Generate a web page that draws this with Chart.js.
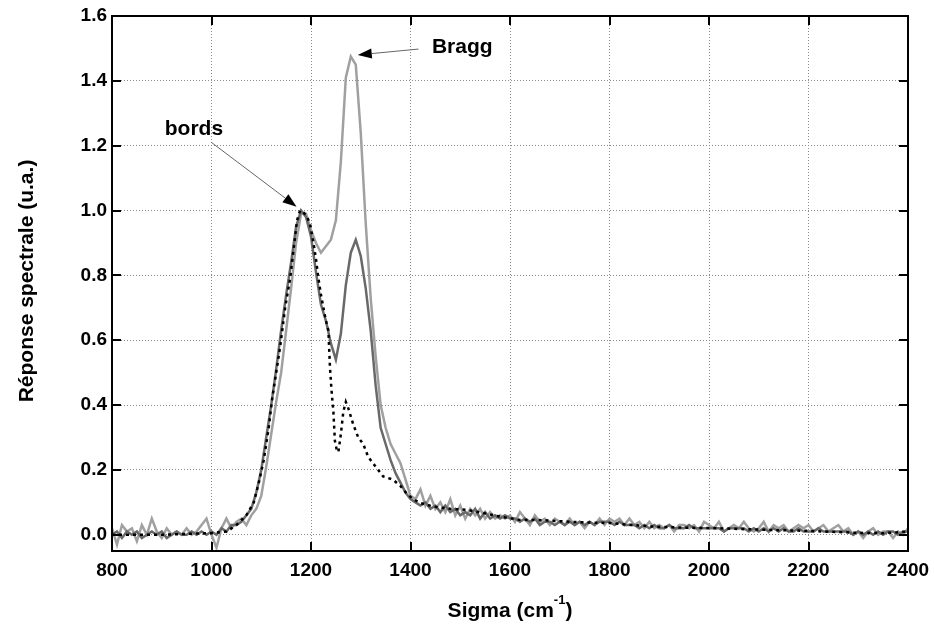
<!DOCTYPE html>
<html>
<head>
<meta charset="utf-8">
<script src="https://cdn.jsdelivr.net/npm/chart.js@4"></script>
<style>
  html, body { margin: 0; padding: 0; background: #fff; }
  #wrap { width: 934px; height: 628px; }
</style>
</head>
<body>
<div id="wrap"><canvas id="myChart" width="934" height="628"></canvas></div>
<script>
// wavenumber grid for the two measured spectra (800..2400, step 10)
var sigma = [];
for (var s = 800; s <= 2400; s += 10) sigma.push(s);

// light grey spectrum (Bragg peak)
var lightGrey = [
  0.02,-0.03,0.03,0.01,0.02,-0.02,0.03,0.00,0.05,0.01,
  -0.01,0.02,0.00,0.01,0.00,0.02,0.00,0.01,0.03,0.05,
  0.00,-0.04,0.02,0.05,0.02,0.04,0.05,0.03,0.06,0.08,
  0.12,0.21,0.31,0.41,0.50,0.63,0.76,0.90,0.99,0.99,
  0.94,0.90,0.87,0.89,0.91,0.97,1.15,1.41,1.475,1.45,
  1.24,0.96,0.73,0.55,0.40,0.33,0.28,0.25,0.22,0.17,
  0.12,0.11,0.14,0.09,0.12,0.08,0.10,0.07,0.11,0.06,
  0.09,0.05,0.08,0.06,0.08,0.05,0.07,0.05,0.06,0.05,
  0.06,0.04,0.07,0.05,0.03,0.06,0.04,0.05,0.03,0.05,
  0.04,0.03,0.05,0.03,0.04,0.02,0.04,0.03,0.05,0.03,
  0.05,0.04,0.05,0.03,0.05,0.03,0.04,0.02,0.04,0.02,
  0.03,0.02,0.03,0.01,0.03,0.03,0.02,0.03,0.01,0.04,
  0.03,0.02,0.04,0.01,0.02,0.03,0.02,0.04,0.02,0.01,
  0.02,0.04,0.01,0.03,0.02,0.03,0.01,0.02,0.03,0.02,
  0.03,0.01,0.02,0.03,0.01,0.02,0.03,0.01,0.02,0.00,
  0.01,-0.01,0.01,0.02,0.00,0.01,0.01,-0.01,0.01,0.00,
  0.02
];

// dark grey spectrum
var darkGrey = [
  0.00,0.01,-0.01,0.01,0.00,0.01,-0.01,0.00,0.01,0.00,
  0.01,-0.01,0.00,0.01,0.00,0.00,0.01,0.00,0.01,0.00,
  0.01,0.00,0.02,0.01,0.03,0.03,0.04,0.06,0.08,0.13,
  0.20,0.30,0.40,0.51,0.63,0.74,0.84,0.95,1.00,0.98,
  0.92,0.81,0.71,0.66,0.59,0.54,0.62,0.77,0.87,0.91,
  0.86,0.76,0.63,0.46,0.33,0.28,0.23,0.19,0.16,0.13,
  0.11,0.10,0.09,0.10,0.08,0.09,0.07,0.09,0.07,0.08,
  0.06,0.07,0.06,0.08,0.05,0.07,0.05,0.06,0.05,0.06,
  0.05,0.05,0.04,0.05,0.04,0.05,0.03,0.04,0.04,0.03,
  0.04,0.03,0.04,0.03,0.04,0.03,0.04,0.03,0.04,0.04,
  0.04,0.03,0.04,0.03,0.03,0.03,0.02,0.03,0.02,0.03,
  0.02,0.02,0.03,0.02,0.02,0.02,0.03,0.02,0.02,0.02,
  0.02,0.02,0.02,0.01,0.02,0.02,0.02,0.02,0.01,0.02,
  0.01,0.02,0.01,0.02,0.01,0.02,0.01,0.01,0.02,0.01,
  0.01,0.01,0.02,0.01,0.01,0.01,0.01,0.01,0.01,0.00,
  0.01,0.00,0.01,0.00,0.01,0.00,0.01,0.01,0.00,0.01,
  0.01
];

// dotted reference curve (its own sampling)
var dotSigma = [800,900,950,1000,1030,1050,1070,1085,1095,1105,1115,1122,1130,1138,1148,1158,1165,1172,1178,1185,1192,1198,1205,1210,1215,1220,1225,1230,1235,1238,1241,1245,1248,1252,1255,1260,1265,1270,1275,1285,1295,1305,1315,1325,1335,1345,1365,1380,1392,1405,1420,1446,1480,1513,1550,1580,1620,1670,1720,1800,1880,1950,2000,2100,2200,2300,2350,2400];
var dotted = [0.0,0.0,0.003,0.005,0.01,0.03,0.06,0.10,0.16,0.23,0.33,0.42,0.50,0.58,0.70,0.79,0.88,0.97,1.0,0.995,0.98,0.96,0.90,0.85,0.79,0.74,0.70,0.66,0.63,0.52,0.45,0.38,0.29,0.26,0.255,0.31,0.38,0.41,0.39,0.34,0.30,0.28,0.24,0.22,0.20,0.18,0.17,0.15,0.128,0.11,0.098,0.087,0.08,0.077,0.066,0.056,0.046,0.045,0.04,0.036,0.026,0.022,0.021,0.016,0.012,0.006,0.005,0.01];

var xTicks = [800,1000,1200,1400,1600,1800,2000,2200,2400];
var yTicks = [0,0.2,0.4,0.6,0.8,1.0,1.2,1.4,1.6];

// annotations, in data units: [tail x, tail y, tip x, tip y]
var bordsArrow = [1000, 1.21, 1171, 1.012];
var braggArrow = [1416, 1.498, 1294, 1.480];
var bordsLabel = [906, 1.233];   // left, baseline
var braggLabel = [1443, 1.486];

function pts(xs, ys) {
  return xs.map(function (x, i) { return {x: x, y: ys[i]}; });
}

var FONT = '"Liberation Sans", Arial, sans-serif';

function arrow(ctx, x1, y1, x2, y2) {
  var ang = Math.atan2(y2 - y1, x2 - x1);
  var len = 14, half = 5;
  var bx = x2 - len * Math.cos(ang), by = y2 - len * Math.sin(ang);
  ctx.beginPath();
  ctx.moveTo(x1, y1);
  ctx.lineTo(bx, by);
  ctx.strokeStyle = '#666';
  ctx.lineWidth = 1;
  ctx.stroke();
  ctx.beginPath();
  ctx.moveTo(x2, y2);
  ctx.lineTo(bx + half * Math.sin(ang), by - half * Math.cos(ang));
  ctx.lineTo(bx - half * Math.sin(ang), by + half * Math.cos(ang));
  ctx.closePath();
  ctx.fillStyle = '#000';
  ctx.fill();
}

var framePlugin = {
  id: 'frame',
  afterDatasetsDraw: function (chart) {
    var ctx = chart.ctx, a = chart.chartArea;
    var x = chart.scales.x, y = chart.scales.y;
    ctx.save();
    ctx.strokeStyle = '#000';
    ctx.lineWidth = 2;
    ctx.strokeRect(a.left, a.top, a.right - a.left, a.bottom - a.top);
    ctx.beginPath();
    xTicks.forEach(function (v) {
      var px = Math.round(x.getPixelForValue(v));
      ctx.moveTo(px, a.bottom); ctx.lineTo(px, a.bottom - 9);
      ctx.moveTo(px, a.top); ctx.lineTo(px, a.top + 9);
    });
    yTicks.forEach(function (v) {
      var py = Math.round(y.getPixelForValue(v));
      ctx.moveTo(a.left, py); ctx.lineTo(a.left + 9, py);
      ctx.moveTo(a.right, py); ctx.lineTo(a.right - 9, py);
    });
    ctx.stroke();

    // annotations
    arrow(ctx, x.getPixelForValue(bordsArrow[0]), y.getPixelForValue(bordsArrow[1]),
               x.getPixelForValue(bordsArrow[2]), y.getPixelForValue(bordsArrow[3]));
    arrow(ctx, x.getPixelForValue(braggArrow[0]), y.getPixelForValue(braggArrow[1]),
               x.getPixelForValue(braggArrow[2]), y.getPixelForValue(braggArrow[3]));
    ctx.fillStyle = '#000';
    ctx.font = 'bold 21px ' + FONT;
    ctx.textBaseline = 'alphabetic';
    ctx.textAlign = 'left';
    ctx.fillText('bords', x.getPixelForValue(bordsLabel[0]), y.getPixelForValue(bordsLabel[1]));
    ctx.fillText('Bragg', x.getPixelForValue(braggLabel[0]), y.getPixelForValue(braggLabel[1]));

    // axis titles
    var big = 'bold 21px ' + FONT, small = 'bold 13px ' + FONT;
    var t1 = 'Sigma (cm', t2 = '-1', t3 = ')';
    ctx.font = big;
    var w1 = ctx.measureText(t1).width, w3 = ctx.measureText(t3).width;
    ctx.font = small;
    var w2 = ctx.measureText(t2).width;
    var cx = (a.left + a.right) / 2;
    var sx = cx - (w1 + w2 + w3) / 2, by = 617;
    ctx.font = big;
    ctx.fillText(t1, sx, by);
    ctx.font = small;
    ctx.fillText(t2, sx + w1, by - 13);
    ctx.font = big;
    ctx.fillText(t3, sx + w1 + w2, by);

    ctx.translate(27, 281);
    ctx.rotate(-Math.PI / 2);
    ctx.textAlign = 'center';
    ctx.textBaseline = 'middle';
    ctx.fillText('Réponse spectrale (u.a.)', 0, 0);
    ctx.restore();
  }
};

var ctx = document.getElementById('myChart').getContext('2d');
var myChart = new Chart(ctx, {
  type: 'line',
  data: {
    datasets: [{
      data: pts(dotSigma, dotted),
      borderColor: '#000',
      borderWidth: 2.5,
      borderDash: [3, 4],
      pointRadius: 0
    }, {
      data: pts(sigma, darkGrey),
      borderColor: 'rgb(105,105,105)',
      borderWidth: 2.5,
      pointRadius: 0
    }, {
      data: pts(sigma, lightGrey),
      borderColor: 'rgb(160,160,160)',
      borderWidth: 2.5,
      pointRadius: 0
    }]
  },
  options: {
    responsive: false,
    animation: false,
    layout: { padding: { left: 0, right: 26, top: 16, bottom: 0 } },
    plugins: { legend: { display: false }, tooltip: { enabled: false } },
    elements: { line: { tension: 0 } },
    scales: {
      x: {
        type: 'linear',
        min: 800,
        max: 2400,
        afterFit: function (scale) {
          scale.height = 77;
          scale.paddingLeft = 0;
          scale.paddingRight = 0;
        },
        afterBuildTicks: function (scale) {
          scale.ticks = xTicks.map(function (v) { return {value: v}; });
        },
        ticks: {
          color: '#000',
          padding: 8,
          maxRotation: 0,
          font: { family: FONT, size: 19, weight: 'bold' },
          callback: function (v) { return String(v); }
        },
        grid: { color: '#8a8a8a', lineWidth: 1, drawTicks: false },
        border: { display: false, dash: [1, 2] }
      },
      y: {
        type: 'linear',
        min: -0.05,
        max: 1.6,
        afterFit: function (scale) {
          scale.width = 112;
          scale.paddingTop = 0;
          scale.paddingBottom = 0;
        },
        afterBuildTicks: function (scale) {
          scale.ticks = yTicks.map(function (v) { return {value: v}; });
        },
        ticks: {
          color: '#000',
          padding: 5,
          font: { family: FONT, size: 19, weight: 'bold' },
          callback: function (v) { return v.toFixed(1); }
        },
        grid: { color: '#8a8a8a', lineWidth: 1, drawTicks: false },
        border: { display: false, dash: [1, 2] }
      }
    }
  },
  plugins: [framePlugin]
});
</script>
</body>
</html>
